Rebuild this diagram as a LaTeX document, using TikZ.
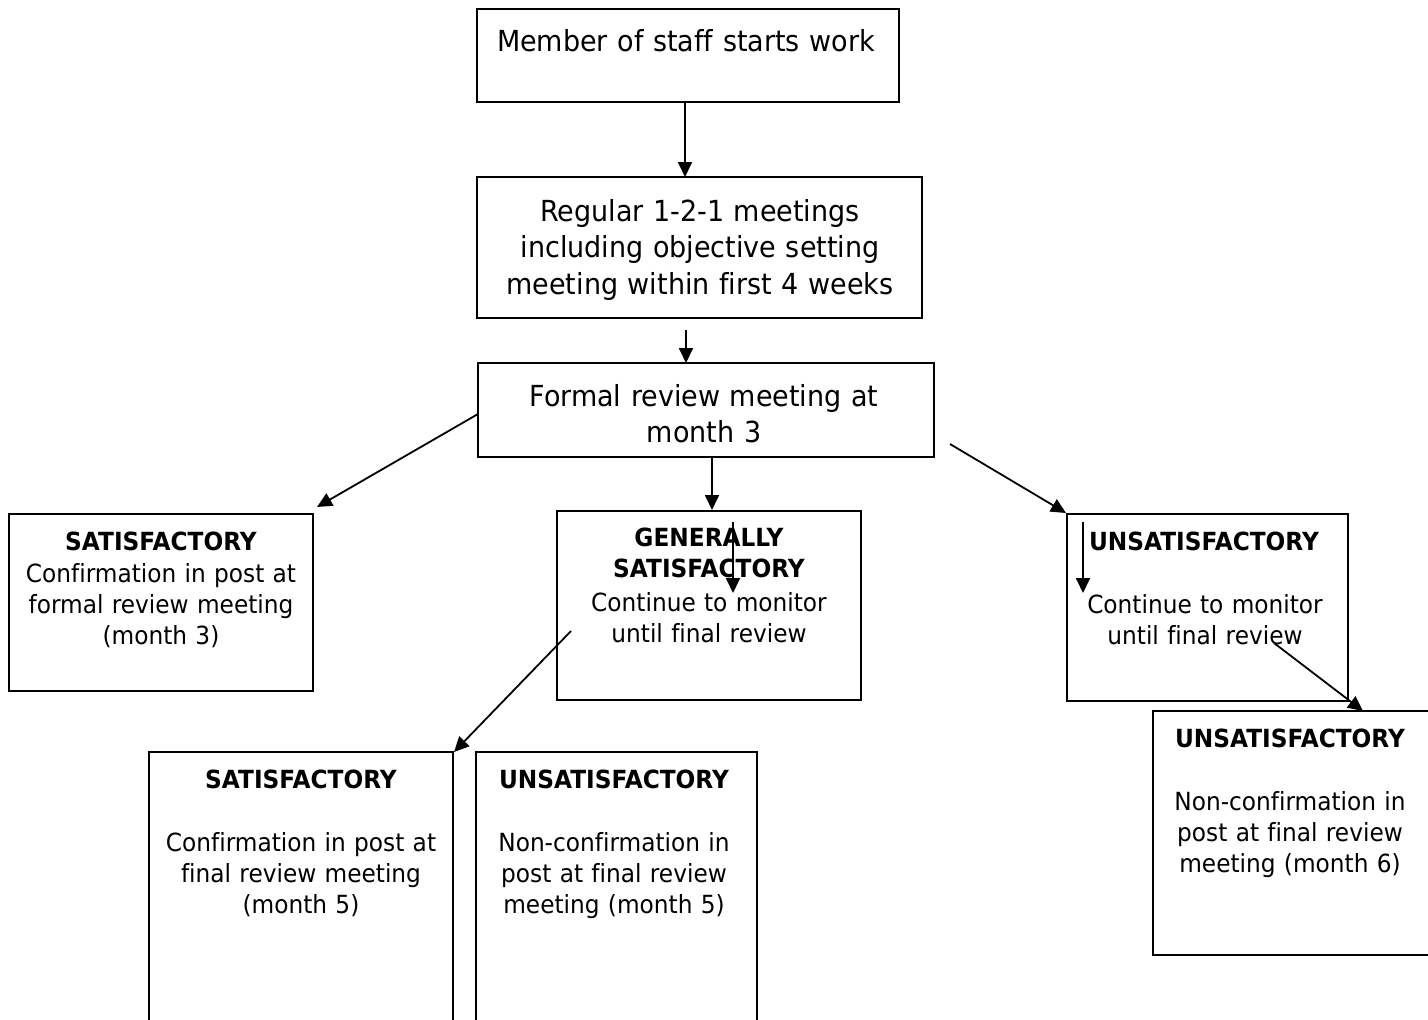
\documentclass[tikz,border=0pt]{standalone}
\usepackage{fontspec}
\setmainfont{DejaVu Sans}[FakeStretch=0.93, Ligatures=NoCommon]
\usetikzlibrary{arrows.meta}
\begin{document}
\begin{tikzpicture}[x=1pt,y=-1pt,
  box/.style={draw, line width=2pt, inner sep=0pt, outer sep=0pt},
  big/.style={anchor=base, align=center, text width=440pt, inner sep=0pt,
    font=\fontsize{29}{36.5}\selectfont},
  head/.style={anchor=base, align=center, text width=300pt, inner sep=0pt,
    font=\fontsize{25}{31}\selectfont\bfseries},
  body/.style={anchor=base, align=center, text width=300pt, inner sep=0pt,
    font=\fontsize{25}{31}\selectfont},
  arr/.style={line width=1.8pt, -{Triangle[length=15pt,width=14pt]}}]
\useasboundingbox (0,0) rectangle (1428,1020);
\clip (0,0) rectangle (1428,1020);
% boxes
\node[box, minimum width=422pt, minimum height=93pt] (A) at (688,55.5) {};
\node[box, minimum width=445pt, minimum height=141pt] (B) at (699.5,247.5) {};
\node[box, minimum width=456pt, minimum height=94pt] (C) at (706,410) {};
\node[box, minimum width=304pt, minimum height=177pt] (S1) at (161,602.5) {};
\node[box, minimum width=304pt, minimum height=189pt] (GS) at (709,605.5) {};
\node[box, minimum width=281pt, minimum height=187pt] (U1) at (1207.5,607.5) {};
\node[box, minimum width=277pt, minimum height=244pt] (U2) at (1291.5,833) {};
\node[box, minimum width=304pt, minimum height=288pt] (S2) at (301,896) {};
\node[box, minimum width=281pt, minimum height=288pt] (U3) at (616.5,896) {};
% texts
\node[big] (At) at (686,51) {Member of staff starts work};
\node[big] (Bt) at (700,221) {Regular 1-2-1 meetings\\ including objective setting\\ meeting within first 4 weeks};
\node[big] (Ct) at (704,406) {Formal review meeting at\\ month 3};
\node[head] (S1h) at (161,550) {SATISFACTORY};
\node[body] (S1t) at (161,582) {Confirmation in post at\\ formal review meeting\\ (month 3)};
\node[head] (GSh) at (709,546) {GENERALLY\\ SATISFACTORY};
\node[body] (GSt) at (709,611) {Continue to monitor\\ until final review};
\node[head] (U1h) at (1204,550) {UNSATISFACTORY};
\node[body] (U1t) at (1205,613) {Continue to monitor\\ until final review};
\node[head] (U2h) at (1290,747) {UNSATISFACTORY};
\node[body] (U2t) at (1290,810) {Non-confirmation in\\ post at final review\\ meeting (month 6)};
\node[head] (S2h) at (301,788) {SATISFACTORY};
\node[body] (S2t) at (301,851) {Confirmation in post at\\ final review meeting\\ (month 5)};
\node[head] (U3h) at (614,788) {UNSATISFACTORY};
\node[body] (U3t) at (614,851) {Non-confirmation in\\ post at final review\\ meeting (month 5)};
% connector ends
\coordinate (a1s) at (685,102);  \coordinate (a1e) at (685,177);
\coordinate (a2s) at (686,330);  \coordinate (a2e) at (686,363);
\coordinate (a3s) at (478,414);  \coordinate (a3e) at (317,507);
\coordinate (a4s) at (712,457);  \coordinate (a4e) at (712,510);
\coordinate (a5s) at (950,444);  \coordinate (a5e) at (1066,513);
\coordinate (a6s) at (733,522);  \coordinate (a6e) at (733,593);
\coordinate (a7s) at (1083,522); \coordinate (a7e) at (1083,593);
\coordinate (a8s) at (1274,643); \coordinate (a8e) at (1363,711);
\coordinate (a9s) at (571,631);  \coordinate (a9e) at (454,752);
% connectors
\draw[arr] (a1s) -- (a1e);
\draw[arr] (a2s) -- (a2e);
\draw[arr] (a3s) -- (a3e);
\draw[arr] (a4s) -- (a4e);
\draw[arr] (a5s) -- (a5e);
\draw[arr] (a6s) -- (a6e);
\draw[arr] (a7s) -- (a7e);
\draw[arr] (a8s) -- (a8e);
\draw[arr] (a9s) -- (a9e);
\end{tikzpicture}
\end{document}
